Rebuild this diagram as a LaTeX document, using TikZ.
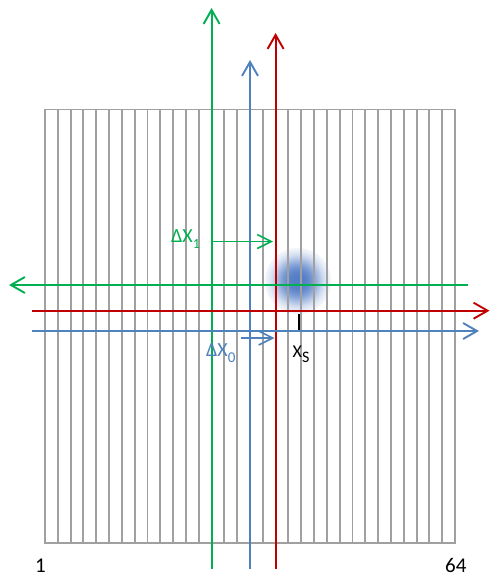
\documentclass[tikz,border=0pt]{standalone}
\usepackage{fontspec}
\setmainfont{Carlito}
\usetikzlibrary{arrows.meta}
\definecolor{cgreen}{HTML}{00B050}
\definecolor{cred}{HTML}{C00000}
\definecolor{cblue}{HTML}{4F81BD}
\definecolor{cgrid}{HTML}{A0A0A0}
\definecolor{cblob}{HTML}{3D6CC0}
\begin{document}
\begin{tikzpicture}[x=1pt,y=-1pt,
  gridline/.style={draw=cgrid, line width=1.9pt},
  axisarrow/.style={line width=1.9pt, -{Straight Barb[length=14pt,width=16pt]}},
  shiftarrow/.style={line width=1.6pt, -{Straight Barb[length=14pt,width=14pt]}},
  lbl/.style={inner sep=0pt, anchor=base west}]
\useasboundingbox[fill=white] (0,0) rectangle (490,576);
% blob: concentric discs fading to white
\foreach \r in {33,32,...,1} {
  \pgfmathsetmacro{\p}{88*exp(-(\r/24)^3)}
  \fill[cblob!\p!white] (298,281) circle[radius=\r pt];
}
% grid
\draw[gridline] (45,109.5) rectangle (455,543);
\foreach \k in {1,...,31} \draw[gridline] ({45+\k*12.8125},109.5) -- ({45+\k*12.8125},543);
% coordinates
\coordinate (gB) at (211.6,569); \coordinate (gT) at (211.6,8);
\coordinate (bB) at (250,569);   \coordinate (bT) at (250,60);
\coordinate (rB) at (275.6,569); \coordinate (rT) at (275.6,33);
\coordinate (gR) at (467.7,285); \coordinate (gL) at (9,285);
\coordinate (rL) at (32,310.7);  \coordinate (rR) at (489.5,310.7);
\coordinate (bL) at (32,331);    \coordinate (bR) at (479,331);
\coordinate (s1a) at (212,241.5); \coordinate (s1b) at (273,241.5);
\coordinate (s0a) at (241,338);   \coordinate (s0b) at (274.5,338);
\coordinate (tkA) at (299,314);   \coordinate (tkB) at (299,330);
% vertical axes
\draw[axisarrow, draw=cgreen] (gB) -- (gT);
\draw[axisarrow, draw=cblue] (bB) -- (bT);
\draw[axisarrow, draw=cred] (rB) -- (rT);
% horizontal axes
\draw[axisarrow, draw=cgreen] (gR) -- (gL);
\draw[axisarrow, draw=cred] (rL) -- (rR);
\draw[axisarrow, draw=cblue] (bL) -- (bR);
% shift arrows
\draw[shiftarrow, draw=cgreen] (s1a) -- (s1b);
\draw[shiftarrow, draw=cblue] (s0a) -- (s0b);
\draw[line width=1.4pt, black] (tkA) -- (tkB);
% labels
\node[lbl, text=cgreen] (dx1) at (171,242) {\fontsize{20}{24}\selectfont ΔX\raisebox{-6pt}{\fontsize{14}{16}\selectfont 1}};
\node[lbl, text=cblue] (dx0) at (206,356) {\fontsize{20}{24}\selectfont ΔX\raisebox{-6pt}{\fontsize{15}{17}\selectfont 0}};
\node[lbl, text=black] (xs) at (292.5,357.3) {\fontsize{18}{21}\selectfont X\raisebox{-5.4pt}{\fontsize{16}{18}\selectfont S}};
\node[inner sep=0pt, anchor=base] (n1) at (40.5,572) {\fontsize{21}{24}\selectfont 1};
\node[inner sep=0pt, anchor=base] (n64) at (455.8,572) {\fontsize{21}{24}\selectfont 64};
\end{tikzpicture}
\end{document}
